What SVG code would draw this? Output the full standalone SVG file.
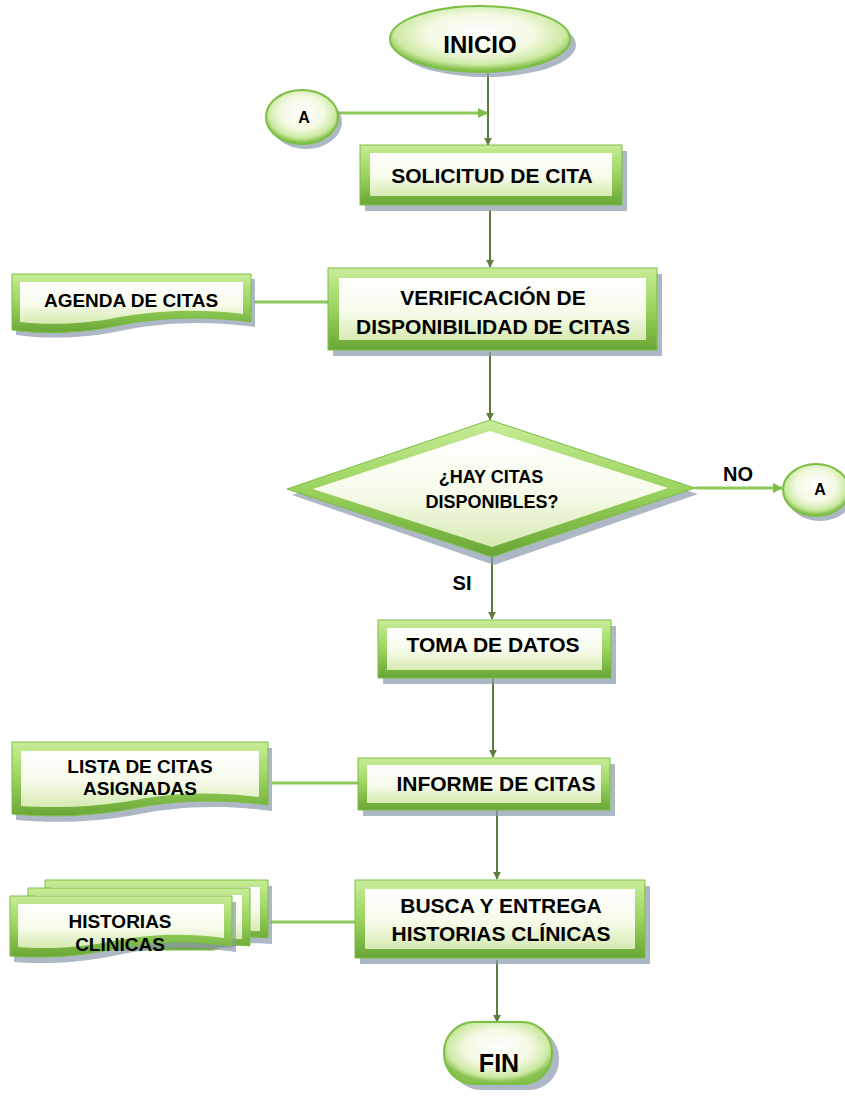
<svg xmlns="http://www.w3.org/2000/svg" width="845" height="1099" viewBox="0 0 845 1099">
<defs>
<linearGradient id="frame" x1="0" y1="0" x2="0" y2="1">
<stop offset="0" stop-color="#c9ec98"/><stop offset="0.5" stop-color="#9ad45e"/><stop offset="1" stop-color="#6aa636"/>
</linearGradient>
<linearGradient id="face" x1="0" y1="0" x2="0" y2="1">
<stop offset="0" stop-color="#ffffff"/><stop offset="0.55" stop-color="#f6fbe9"/><stop offset="1" stop-color="#d6eab2"/>
</linearGradient>
<radialGradient id="ell" cx="0.5" cy="0.42" r="0.55">
<stop offset="0" stop-color="#ffffff"/><stop offset="0.55" stop-color="#f3f9e2"/><stop offset="0.85" stop-color="#cde9a4"/><stop offset="1" stop-color="#86c24c"/>
</radialGradient>
<marker id="arr" viewBox="0 0 10 10" refX="9" refY="5" markerWidth="4" markerHeight="4" orient="auto">
<path d="M0,0 L10,5 L0,10 Z" fill="#5b7e3a"/>
</marker>
<marker id="arrL" viewBox="0 0 10 10" refX="9" refY="5" markerWidth="3.5" markerHeight="3.5" orient="auto">
<path d="M0,0 L10,5 L0,10 Z" fill="#7fba4c"/>
</marker>
<style>
.sh{fill:#8c98ac;opacity:0.7}
.fr{fill:url(#frame);stroke:#7cbf45;stroke-width:1}
.fc{fill:url(#face)}
.el{fill:url(#ell);stroke:#7cbf45;stroke-width:2}
.t{font-family:"Liberation Sans",Arial,sans-serif;font-weight:bold;fill:#000;text-anchor:middle}
.m{font-size:21px}
.s{font-size:19px}
.v{stroke:#5b7e3a;stroke-width:2;fill:none}
.h{stroke:#8cc85a;stroke-width:3;fill:none}
</style>
</defs>

<g id="connectors">
<line class="v" x1="488" y1="73" x2="488" y2="145" marker-end="url(#arr)"/>
<line class="h" x1="338" y1="113" x2="487" y2="113" marker-end="url(#arrL)"/>
<line class="v" x1="490" y1="210" x2="490" y2="267" marker-end="url(#arr)"/>
<line class="h" x1="254" y1="302" x2="328" y2="302"/>
<line class="v" x1="490" y1="352" x2="490" y2="420" marker-end="url(#arr)"/>
<line class="h" x1="695" y1="488" x2="782" y2="488" marker-end="url(#arrL)"/>
<line class="v" x1="492" y1="557" x2="492" y2="619" marker-end="url(#arr)"/>
<line class="v" x1="493" y1="679" x2="493" y2="757" marker-end="url(#arr)"/>
<line class="h" x1="272" y1="783" x2="358" y2="783"/>
<line class="v" x1="497" y1="810" x2="497" y2="879" marker-end="url(#arr)"/>
<line class="h" x1="270" y1="922" x2="355" y2="922"/>
<line class="v" x1="497" y1="960" x2="497" y2="1022" marker-end="url(#arr)"/>
</g>

<g id="inicio">
<ellipse class="sh" cx="486" cy="45" rx="90" ry="32"/>
<ellipse class="el" cx="480" cy="39" rx="90" ry="33"/>
<text class="t" x="480" y="53" font-size="24">INICIO</text>
</g>

<g id="conector-a1">
<ellipse class="sh" cx="306" cy="122" rx="36" ry="27"/>
<ellipse class="el" cx="302" cy="117" rx="36" ry="27"/>
<text class="t" x="304" y="123" font-size="16">A</text>
</g>

<g id="solicitud">
<rect class="sh" x="365" y="151" width="262" height="60"/>
<rect class="fr" x="360" y="145" width="262" height="60"/>
<rect class="fc" x="370" y="153" width="242" height="43"/>
<text class="t m" x="492" y="183">SOLICITUD DE CITA</text>
</g>

<g id="verificacion">
<rect class="sh" x="333" y="274" width="329" height="82"/>
<rect class="fr" x="328" y="268" width="329" height="82"/>
<rect class="fc" x="339" y="278" width="307" height="62"/>
<text class="t m" x="493" y="305">VERIFICACIÓN DE</text>
<text class="t m" x="493" y="334">DISPONIBILIDAD DE CITAS</text>
</g>

<g id="agenda">
<path class="sh" d="M16,279 H255 V327 C205,320 160,323 125,330 C85,339 45,339 16,335 Z"/>
<path class="fr" d="M12,274 H251 V322 C201,315 156,318 121,325 C81,334 41,334 12,330 Z"/>
<path class="fc" d="M20,282 H243 V314 C197,308 154,311 120,317 C82,325 44,325 20,322 Z"/>
<text class="t s" x="131" y="307">AGENDA DE CITAS</text>
</g>

<g id="decision">
<polygon class="sh" points="490,428 698,494 494,565 292,495"/>
<polygon class="fr" points="490,420 695,488 492,557 287,489"/>
<polygon class="fc" points="490,431 668,488 492,547 313,489"/>
<text class="t" x="491" y="483" font-size="18">¿HAY CITAS</text>
<text class="t" x="492" y="508" font-size="18">DISPONIBLES?</text>
</g>

<text class="t" x="738" y="481" font-size="20">NO</text>
<text class="t" x="462" y="590" font-size="20">SI</text>

<g id="conector-a2">
<ellipse class="sh" cx="820" cy="495" rx="33" ry="26"/>
<ellipse class="el" cx="816" cy="490" rx="33" ry="26"/>
<text class="t" x="820" y="495" font-size="16">A</text>
</g>

<g id="toma">
<rect class="sh" x="383" y="626" width="233" height="58"/>
<rect class="fr" x="378" y="620" width="233" height="58"/>
<rect class="fc" x="387" y="628" width="215" height="42"/>
<text class="t m" x="493" y="652">TOMA DE DATOS</text>
</g>

<g id="informe">
<rect class="sh" x="363" y="764" width="252" height="52"/>
<rect class="fr" x="358" y="758" width="252" height="52"/>
<rect class="fc" x="367" y="765" width="234" height="38"/>
<text class="t m" x="496" y="791">INFORME DE CITAS</text>
</g>

<g id="lista">
<path class="sh" d="M16,748 H272 V811 C220,804 175,807 140,814 C95,823 50,823 16,820 Z"/>
<path class="fr" d="M12,742 H268 V805 C216,798 171,801 136,808 C91,817 46,817 12,814 Z"/>
<path class="fc" d="M21,751 H259 V797 C212,791 170,793 136,800 C92,808 50,808 21,806 Z"/>
<text class="t s" x="140" y="773">LISTA DE CITAS</text>
<text class="t s" x="140" y="795">ASIGNADAS</text>
</g>

<g id="busca">
<rect class="sh" x="360" y="886" width="290" height="78"/>
<rect class="fr" x="355" y="880" width="290" height="78"/>
<rect class="fc" x="365" y="889" width="270" height="60"/>
<text class="t m" x="501" y="913">BUSCA Y ENTREGA</text>
<text class="t m" x="501" y="941">HISTORIAS CLÍNICAS</text>
</g>

<g id="historias">
<path class="sh" d="M49,886 H272 V944 C250,942 240,944 230,948 L49,948 Z"/>
<path class="fr" d="M45,880 H268 V938 C248,936 240,938 232,942 L45,942 Z"/>
<path class="fc" d="M52,887 H260 V931 L52,931 Z"/>
<path class="fr" d="M28,888 H250 V946 C230,944 222,946 214,950 L28,950 Z"/>
<path class="fc" d="M35,895 H242 V939 L35,939 Z"/>
<path class="sh" d="M14,902 H236 V952 C186,945 150,948 118,955 C76,964 40,964 14,962 Z"/>
<path class="fr" d="M10,896 H232 V946 C182,939 146,942 114,949 C72,958 36,958 10,956 Z"/>
<path class="fc" d="M18,904 H224 V938 C180,932 144,935 114,941 C74,949 40,949 18,947 Z"/>
<text class="t s" x="120" y="928">HISTORIAS</text>
<text class="t s" x="120" y="951">CLINICAS</text>
</g>

<g id="fin">
<rect class="sh" x="451" y="1028" width="108" height="62" rx="30" ry="30"/>
<rect class="el" x="444" y="1022" width="108" height="62" rx="30" ry="30"/>
<text class="t" x="499" y="1072" font-size="25">FIN</text>
</g>
</svg>
